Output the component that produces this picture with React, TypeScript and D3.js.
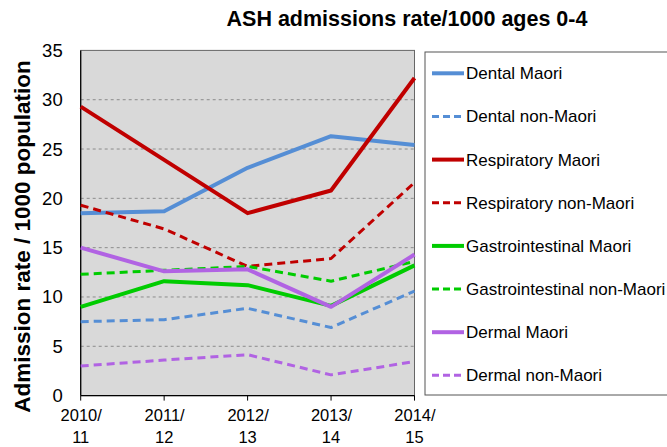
import React from "react";
import * as d3 from "d3";

const categories = ["2010/11", "2011/12", "2012/13", "2013/14", "2014/15"];
const dentalMaori = [18.5, 18.7, 23.1, 26.3, 25.4];
const dentalNonMaori = [7.5, 7.7, 8.85, 6.9, 10.6];
const respiratoryMaori = [29.3, 23.9, 18.5, 20.8, 32.2];
const respiratoryNonMaori = [19.3, 16.9, 13.1, 13.9, 21.6];
const gastroMaori = [9.0, 11.6, 11.2, 9.1, 13.2];
const gastroNonMaori = [12.3, 12.7, 13.1, 11.6, 13.6];
const dermalMaori = [15.0, 12.6, 12.8, 9.0, 14.3];
const dermalNonMaori = [3.0, 3.6, 4.15, 2.1, 3.45];
const yTicks = [0, 5, 10, 15, 20, 25, 30, 35];

const series = [
  { name: "Dental Maori", values: dentalMaori, color: "#558ED5", dashed: false },
  { name: "Dental non-Maori", values: dentalNonMaori, color: "#558ED5", dashed: true },
  { name: "Respiratory Maori", values: respiratoryMaori, color: "#C00000", dashed: false },
  { name: "Respiratory non-Maori", values: respiratoryNonMaori, color: "#C00000", dashed: true },
  { name: "Gastrointestinal Maori", values: gastroMaori, color: "#00CC00", dashed: false },
  { name: "Gastrointestinal non-Maori", values: gastroNonMaori, color: "#00CC00", dashed: true },
  { name: "Dermal Maori", values: dermalMaori, color: "#B163E3", dashed: false },
  { name: "Dermal non-Maori", values: dermalNonMaori, color: "#B163E3", dashed: true },
];

const FONT = "'Liberation Sans', Arial, sans-serif";

export default function App() {
  const left = 80.7, right = 414.5, top = 50.4, bottom = 395.6;
  const x = d3.scalePoint<string>().domain(categories).range([left, right]);
  const y = d3.scaleLinear().domain([0, 35]).range([bottom, top]);
  const line = d3.line<number>().x((_, i) => x(categories[i])!).y((d) => y(d));

  const legX = 425, legY = 52, legW = 250, legH = 343;
  const rowStart = 73.3, rowStep = 43.15;

  return (
    <svg width={667} height={447} style={{ position: "absolute", left: 0, top: 0, background: "#fff" }} fontFamily={FONT}>
      <text x={407} y={26} textAnchor="middle" fontSize={21.5} fontWeight="bold" fill="#000">
        ASH admissions rate/1000 ages 0-4
      </text>
      <rect x={left} y={top} width={right - left} height={bottom - top} fill="#D9D9D9" stroke="#666" strokeWidth={1} />
      {yTicks.filter((t) => t > 0 && t < 35).map((t) => (
        <line key={t} x1={left} x2={right} y1={y(t)} y2={y(t)} stroke="#8C8C8C" strokeWidth={1} strokeDasharray="3,3" />
      ))}
      {yTicks.map((t) => (
        <text key={t} x={left - 18} y={y(t) + 6.5} textAnchor="end" fontSize={18.5} fill="#000">
          {t}
        </text>
      ))}
      <line x1={left} x2={left} y1={top} y2={bottom} stroke="#000" strokeWidth={1.2} />
      <line x1={left} x2={right} y1={bottom} y2={bottom} stroke="#000" strokeWidth={1.2} />
      {categories.map((c) => (
        <g key={c}>
          <line x1={x(c)} x2={x(c)} y1={bottom} y2={bottom + 5} stroke="#000" strokeWidth={1} />
          <text x={x(c) + 0.5} y={420.5} textAnchor="middle" fontSize={16.5} fill="#000">
            {c.split("/")[0] + "/"}
          </text>
          <text x={x(c)} y={442.5} textAnchor="middle" fontSize={16.5} fill="#000">
            {c.split("/")[1]}
          </text>
        </g>
      ))}
      <text transform={`translate(29.5,236.5) rotate(-90)`} textAnchor="middle" fontSize={22.5} fontWeight="bold" fill="#000">
        Admission rate / 1000 population
      </text>
      {series.map((s) => (
        <path key={s.name} d={line(s.values)!} fill="none" stroke={s.color} strokeWidth={s.dashed ? 3 : 4}
          strokeDasharray={s.dashed ? "8,5" : undefined} strokeLinejoin="round" />
      ))}
      <rect x={legX} y={legY} width={legW} height={legH} fill="#fff" stroke="#555" strokeWidth={1} />
      {series.map((s, i) => {
        const ry = rowStart + i * rowStep;
        return (
          <g key={s.name}>
            <line x1={432} x2={464} y1={ry} y2={ry} stroke={s.color} strokeWidth={s.dashed ? 3 : 4}
              strokeDasharray={s.dashed ? "7,4" : undefined} />
            <text x={466} y={ry + 6} fontSize={17} fill="#000">
              {s.name}
            </text>
          </g>
        );
      })}
    </svg>
  );
}
